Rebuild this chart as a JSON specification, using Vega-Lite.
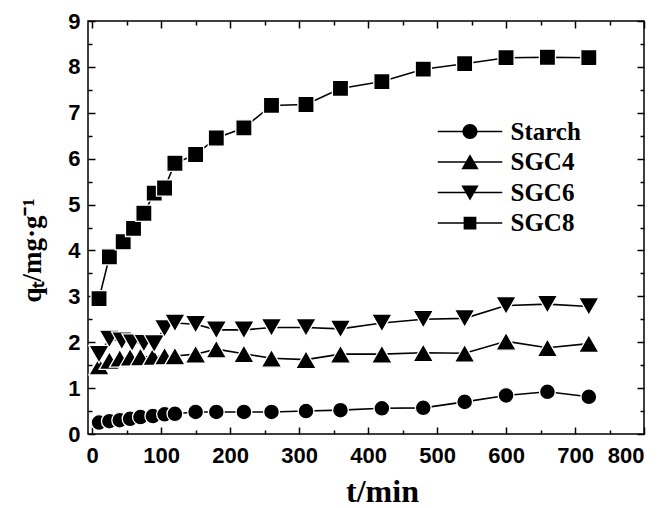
{
  "$schema": "https://vega.github.io/schema/vega-lite/v6.json",
  "width": 556,
  "height": 413,
  "autosize": {"type": "none"},
  "padding": {"left": 88, "top": 21, "right": 20, "bottom": 74},
  "background": "white",
  "config": {
    "view": {"stroke": "black", "strokeWidth": 1.5},
    "axis": {
      "grid": false,
      "domain": false,
      "tickColor": "black",
      "tickWidth": 1.5,
      "labelColor": "black",
      "labelFont": "Liberation Sans",
      "labelFontSize": 22,
      "labelFontWeight": "bold",
      "titleColor": "black",
      "titleFont": "Liberation Serif",
      "titleFontSize": 30,
      "titleFontWeight": "bold"
    }
  },
  "data": {
    "values": [
      {"series": "Starch", "t": 10, "q": 0.25},
      {"series": "Starch", "t": 25, "q": 0.28},
      {"series": "Starch", "t": 40, "q": 0.30},
      {"series": "Starch", "t": 55, "q": 0.33},
      {"series": "Starch", "t": 70, "q": 0.37},
      {"series": "Starch", "t": 88, "q": 0.39},
      {"series": "Starch", "t": 105, "q": 0.43},
      {"series": "Starch", "t": 120, "q": 0.44},
      {"series": "Starch", "t": 150, "q": 0.48},
      {"series": "Starch", "t": 180, "q": 0.48},
      {"series": "Starch", "t": 220, "q": 0.48},
      {"series": "Starch", "t": 260, "q": 0.48},
      {"series": "Starch", "t": 310, "q": 0.50},
      {"series": "Starch", "t": 360, "q": 0.52},
      {"series": "Starch", "t": 420, "q": 0.56},
      {"series": "Starch", "t": 480, "q": 0.57},
      {"series": "Starch", "t": 540, "q": 0.70},
      {"series": "Starch", "t": 600, "q": 0.84},
      {"series": "Starch", "t": 660, "q": 0.92},
      {"series": "Starch", "t": 720, "q": 0.81},
      {"series": "SGC4", "t": 10, "q": 1.48},
      {"series": "SGC4", "t": 25, "q": 1.60},
      {"series": "SGC4", "t": 40, "q": 1.65},
      {"series": "SGC4", "t": 55, "q": 1.67},
      {"series": "SGC4", "t": 70, "q": 1.68},
      {"series": "SGC4", "t": 88, "q": 1.69},
      {"series": "SGC4", "t": 105, "q": 1.70},
      {"series": "SGC4", "t": 120, "q": 1.70},
      {"series": "SGC4", "t": 150, "q": 1.74},
      {"series": "SGC4", "t": 180, "q": 1.85},
      {"series": "SGC4", "t": 220, "q": 1.75},
      {"series": "SGC4", "t": 260, "q": 1.65},
      {"series": "SGC4", "t": 310, "q": 1.62},
      {"series": "SGC4", "t": 360, "q": 1.74},
      {"series": "SGC4", "t": 420, "q": 1.74},
      {"series": "SGC4", "t": 480, "q": 1.77},
      {"series": "SGC4", "t": 540, "q": 1.76},
      {"series": "SGC4", "t": 600, "q": 2.02},
      {"series": "SGC4", "t": 660, "q": 1.88},
      {"series": "SGC4", "t": 720, "q": 1.97},
      {"series": "SGC6", "t": 10, "q": 1.74},
      {"series": "SGC6", "t": 25, "q": 2.07},
      {"series": "SGC6", "t": 43, "q": 2.03},
      {"series": "SGC6", "t": 58, "q": 1.99},
      {"series": "SGC6", "t": 75, "q": 1.98},
      {"series": "SGC6", "t": 90, "q": 1.97},
      {"series": "SGC6", "t": 105, "q": 2.30},
      {"series": "SGC6", "t": 120, "q": 2.42},
      {"series": "SGC6", "t": 150, "q": 2.39},
      {"series": "SGC6", "t": 180, "q": 2.27},
      {"series": "SGC6", "t": 220, "q": 2.27},
      {"series": "SGC6", "t": 260, "q": 2.32},
      {"series": "SGC6", "t": 310, "q": 2.32},
      {"series": "SGC6", "t": 360, "q": 2.29},
      {"series": "SGC6", "t": 420, "q": 2.42},
      {"series": "SGC6", "t": 480, "q": 2.50},
      {"series": "SGC6", "t": 540, "q": 2.52},
      {"series": "SGC6", "t": 600, "q": 2.80},
      {"series": "SGC6", "t": 660, "q": 2.83},
      {"series": "SGC6", "t": 720, "q": 2.78},
      {"series": "SGC8", "t": 10, "q": 2.95},
      {"series": "SGC8", "t": 25, "q": 3.86},
      {"series": "SGC8", "t": 45, "q": 4.19},
      {"series": "SGC8", "t": 60, "q": 4.48},
      {"series": "SGC8", "t": 75, "q": 4.81},
      {"series": "SGC8", "t": 90, "q": 5.25},
      {"series": "SGC8", "t": 105, "q": 5.36},
      {"series": "SGC8", "t": 120, "q": 5.90},
      {"series": "SGC8", "t": 150, "q": 6.09},
      {"series": "SGC8", "t": 180, "q": 6.45},
      {"series": "SGC8", "t": 220, "q": 6.67},
      {"series": "SGC8", "t": 260, "q": 7.16},
      {"series": "SGC8", "t": 310, "q": 7.18},
      {"series": "SGC8", "t": 360, "q": 7.53},
      {"series": "SGC8", "t": 420, "q": 7.68},
      {"series": "SGC8", "t": 480, "q": 7.95},
      {"series": "SGC8", "t": 540, "q": 8.07},
      {"series": "SGC8", "t": 600, "q": 8.20},
      {"series": "SGC8", "t": 660, "q": 8.21},
      {"series": "SGC8", "t": 720, "q": 8.20}
    ]
  },
  "layer": [
    {
      "mark": {"type": "line", "color": "black", "strokeWidth": 1.6},
      "encoding": {
        "x": {
          "field": "t", "type": "quantitative",
          "scale": {"domain": [-6, 800], "nice": false, "zero": false},
          "axis": {"orient": "bottom", "values": [0, 100, 200, 300, 400, 500, 600, 700, 800], "tickSize": -7, "labelPadding": 18, "title": "t/min", "titleFontSize": 32, "titleX": 294, "titlePadding": 10}
        },
        "y": {
          "field": "q", "type": "quantitative",
          "scale": {"domain": [0, 9], "nice": false, "zero": false},
          "axis": {"orient": "left", "values": [0, 1, 2, 3, 4, 5, 6, 7, 8, 9], "tickSize": -7, "labelPadding": 15, "title": "qₜ/mg·g⁻¹", "titleFontSize": 27, "titleY": 229, "titlePadding": 21}
        },
        "detail": {"field": "series"}
      }
    },
    {
      "transform": [{"filter": {"field": "series", "equal": "Starch"}}],
      "mark": {"type": "point", "shape": "circle", "filled": true, "fill": "black", "stroke": "white", "strokeWidth": 1.3, "opacity": 1, "size": 250},
      "encoding": {
        "x": {
          "field": "t", "type": "quantitative",
          "axis": {"orient": "bottom", "values": [50, 150, 250, 350, 450, 550, 650, 750], "tickSize": -4, "labels": false, "title": null}
        },
        "y": {
          "field": "q", "type": "quantitative",
          "axis": {"orient": "left", "values": [0.5, 1.5, 2.5, 3.5, 4.5, 5.5, 6.5, 7.5, 8.5], "tickSize": -4, "labels": false, "title": null}
        }
      }
    },
    {
      "transform": [{"filter": {"field": "series", "equal": "SGC4"}}],
      "mark": {"type": "point", "shape": "triangle-up", "filled": true, "fill": "black", "stroke": "white", "strokeWidth": 1.3, "opacity": 1, "size": 420},
      "encoding": {
        "x": {
          "field": "t", "type": "quantitative",
          "axis": {"orient": "top", "values": [0, 100, 200, 300, 400, 500, 600, 700, 800], "tickSize": -7, "labels": false, "title": null}
        },
        "y": {
          "field": "q", "type": "quantitative",
          "axis": {"orient": "right", "values": [0, 1, 2, 3, 4, 5, 6, 7, 8, 9], "tickSize": -7, "labels": false, "title": null}
        }
      }
    },
    {
      "transform": [{"filter": {"field": "series", "equal": "SGC6"}}],
      "mark": {"type": "point", "shape": "triangle-down", "filled": true, "fill": "black", "stroke": "white", "strokeWidth": 1.3, "opacity": 1, "size": 420},
      "encoding": {
        "x": {
          "field": "t", "type": "quantitative",
          "axis": {"orient": "top", "values": [50, 150, 250, 350, 450, 550, 650, 750], "tickSize": -4, "labels": false, "title": null}
        },
        "y": {
          "field": "q", "type": "quantitative",
          "axis": {"orient": "right", "values": [0.5, 1.5, 2.5, 3.5, 4.5, 5.5, 6.5, 7.5, 8.5], "tickSize": -4, "labels": false, "title": null}
        }
      }
    },
    {
      "transform": [{"filter": {"field": "series", "equal": "SGC8"}}],
      "mark": {"type": "point", "shape": "square", "filled": true, "fill": "black", "stroke": "white", "strokeWidth": 1.3, "opacity": 1, "size": 260},
      "encoding": {
        "x": {"field": "t", "type": "quantitative", "axis": null},
        "y": {"field": "q", "type": "quantitative", "axis": null}
      }
    },
    {
      "transform": [{"filter": "datum.t > 1000"}],
      "mark": {"type": "point", "filled": true, "color": "black", "opacity": 1, "size": 225},
      "encoding": {
        "x": {"field": "t", "type": "quantitative", "axis": null},
        "y": {"field": "q", "type": "quantitative", "axis": null},
        "shape": {
          "field": "series", "type": "nominal",
          "scale": {
            "domain": ["Starch", "SGC4", "SGC6", "SGC8"],
            "range": [
              "M-4.3,-0.1H4.3V0.1H-4.3ZM-1,0A1,1 0 1,1 1,0A1,1 0 1,1 -1,0Z",
              "M-4.3,-0.1H4.3V0.1H-4.3ZM0,-1.05L1.15,0.95L-1.15,0.95Z",
              "M-4.3,-0.1H4.3V0.1H-4.3ZM-1.15,-0.95L1.15,-0.95L0,1.05Z",
              "M-4.3,-0.1H4.3V0.1H-4.3ZM-0.85,-0.85H0.85V0.85H-0.85Z"
            ]
          },
          "legend": {
            "title": null,
            "orient": "none",
            "legendX": 369.5,
            "legendY": 98,
            "padding": 0,
            "labelFont": "Liberation Serif",
            "labelFontSize": 25,
            "labelFontWeight": "bold",
            "labelColor": "black",
            "labelOffset": 28,
            "symbolSize": 225,
            "rowPadding": 4.5,
            "symbolFillColor": "black",
            "symbolOpacity": 1
          }
        }
      }
    }
  ],
  "resolve": {"axis": {"x": "independent", "y": "independent"}}
}
